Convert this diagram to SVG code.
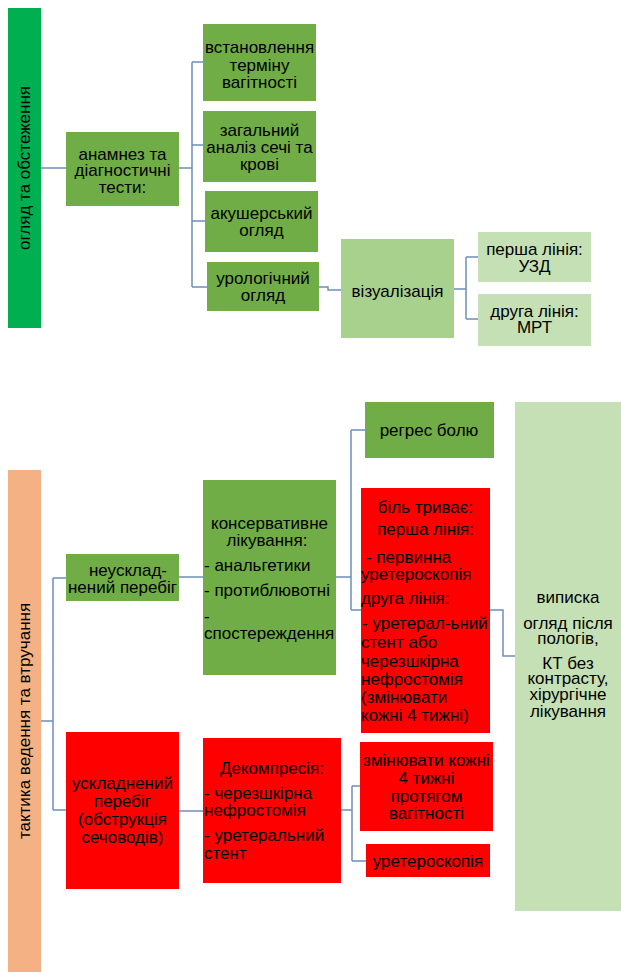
<svg xmlns="http://www.w3.org/2000/svg" width="621" height="972" viewBox="0 0 621 972">
<style>
text{font-family:"Liberation Sans",Arial,sans-serif;font-size:17px;fill:#000}
.c{text-anchor:middle}
.g{fill:#70ad47}
.lg{fill:#a9d18e}
.xg{fill:#c5e0b4}
.r{fill:#ff0000}
.conn path{fill:none;stroke:#6f8fb8;stroke-width:1.5}
</style>
<rect width="621" height="972" fill="#fff"/>
<g class="conn">
<path d="M41,168 H66"/>
<path d="M179,168 H192 M192,62 V287 M192,62 H203 M192,145 H203 M192,221 H205 M192,287 H207"/>
<path d="M319,287 H328 V290 H341"/>
<path d="M454,289 H466 M466,257 V319 M466,257 H478 M466,319 H478"/>
<path d="M41,721 H53 M53,578 V810 M53,578 H66 M53,810 H66"/>
<path d="M179,577 H203"/>
<path d="M336,577 H351 M351,430 V610 M351,430 H365 M351,610 H361"/>
<path d="M490,610 H503 V656 H515"/>
<path d="M179,811 H203"/>
<path d="M341,810 H352 M352,786 V861 M352,786 H360 M352,861 H366"/>
</g>
<g id="n-ohliad">
<rect x="8" y="8" width="33" height="320" fill="#00b050"/>
<text class="c" transform="translate(30,168) rotate(-90)">огляд та обстеження</text>
</g>
<g id="n-anamnez">
<rect class="g" x="66" y="132" width="113" height="74"/>
<text class="c" x="122.5" y="160">анамнез та</text>
<text class="c" x="122.5" y="176">діагностичні</text>
<text class="c" x="122.5" y="193">тести:</text>
</g>
<g id="n-termin">
<rect class="g" x="203" y="24" width="113" height="77"/>
<text class="c" x="259.5" y="53">встановлення</text>
<text class="c" x="259.5" y="71">терміну</text>
<text class="c" x="259.5" y="88">вагітності</text>
</g>
<g id="n-analiz">
<rect class="g" x="203" y="111" width="113" height="71"/>
<text class="c" x="259.5" y="136">загальний</text>
<text class="c" x="259.5" y="153">аналіз сечі та</text>
<text class="c" x="259.5" y="170">крові</text>
</g>
<g id="n-akush">
<rect class="g" x="205" y="191" width="113" height="61"/>
<text class="c" x="261.5" y="219">акушерський</text>
<text class="c" x="261.5" y="236">огляд</text>
</g>
<g id="n-urol">
<rect class="g" x="207" y="262" width="112" height="49"/>
<text class="c" x="263" y="284">урологічний</text>
<text class="c" x="263" y="301">огляд</text>
</g>
<g id="n-vizual">
<rect class="lg" x="341" y="239" width="113" height="99"/>
<text class="c" x="397.5" y="297">візуалізація</text>
</g>
<g id="n-uzd">
<rect class="xg" x="478" y="232" width="113" height="50"/>
<text class="c" x="534.5" y="255">перша лінія:</text>
<text class="c" x="534.5" y="272">УЗД</text>
</g>
<g id="n-mrt">
<rect class="xg" x="478" y="294" width="113" height="52"/>
<text class="c" x="534.5" y="317">друга лінія:</text>
<text class="c" x="534.5" y="333">МРТ</text>
</g>
<g id="n-taktyka">
<rect x="8" y="470" width="33" height="502" fill="#f4b183"/>
<text class="c" transform="translate(30,721) rotate(-90)">тактика ведення та втручання</text>
</g>
<g id="n-neuskl">
<rect class="g" x="66" y="554" width="113" height="47"/>
<text class="c" x="128" y="576">неусклад-</text>
<text class="c" x="122.5" y="593">нений перебіг</text>
</g>
<g id="n-konserv">
<rect class="g" x="203" y="480" width="133" height="195"/>
<text class="c" x="269.5" y="529">консервативне</text>
<text class="c" x="267" y="546">лікування:</text>
<text x="204" y="571">- анальгетики</text>
<text x="204" y="596">- протиблювотні</text>
<text x="204" y="622">-</text>
<text x="204" y="639">спостереждення</text>
</g>
<g id="n-rehres">
<rect class="g" x="365" y="402" width="129" height="56"/>
<text class="c" x="429" y="436">регрес болю</text>
</g>
<g id="n-bil">
<rect class="r" x="361" y="488" width="129" height="245"/>
<text class="c" x="425.5" y="513">біль триває:</text>
<text class="c" x="425.5" y="535">перша лінія:</text>
<text x="366" y="563">- первинна</text>
<text x="361" y="580">уретероскопія</text>
<text x="361" y="604">друга лінія:</text>
<text x="362" y="629">- уретерал-ьний</text>
<text x="361" y="648">стент або</text>
<text x="361" y="667">черезшкірна</text>
<text x="361" y="685">нефростомія</text>
<text x="361" y="703">(змінювати</text>
<text x="361" y="721">кожні 4 тижні)</text>
</g>
<g id="n-vypyska">
<rect class="xg" x="515" y="402" width="106" height="509"/>
<text class="c" x="568" y="603">виписка</text>
<text class="c" x="568" y="629">огляд після</text>
<text class="c" x="568" y="644">пологів,</text>
<text class="c" x="568" y="669">КТ без</text>
<text class="c" x="568" y="684">контрасту,</text>
<text class="c" x="568" y="700">хірургічне</text>
<text class="c" x="568" y="717">лікування</text>
</g>
<g id="n-uskl">
<rect class="r" x="66" y="732" width="113" height="157"/>
<text class="c" x="122.5" y="789">ускладнений</text>
<text class="c" x="122.5" y="807">перебіг</text>
<text class="c" x="122.5" y="825">(обструкція</text>
<text class="c" x="122.5" y="843">сечоводів)</text>
</g>
<g id="n-dekompr">
<rect class="r" x="203" y="738" width="138" height="145"/>
<text class="c" x="272" y="774">Декомпресія:</text>
<text x="204" y="799">- черезшкірна</text>
<text x="204" y="816">нефростомія</text>
<text x="204" y="841">- уретеральний</text>
<text x="204" y="859">стент</text>
</g>
<g id="n-zminiuvaty">
<rect class="r" x="360" y="742" width="133" height="89"/>
<text class="c" x="426.5" y="766">змінювати кожні</text>
<text class="c" x="426.5" y="784">4 тижні</text>
<text class="c" x="426.5" y="802">протягом</text>
<text class="c" x="426.5" y="819">вагітності</text>
</g>
<g id="n-ureterosk">
<rect class="r" x="366" y="844" width="124" height="33"/>
<text class="c" x="428" y="867">уретероскопія</text>
</g>
</svg>
